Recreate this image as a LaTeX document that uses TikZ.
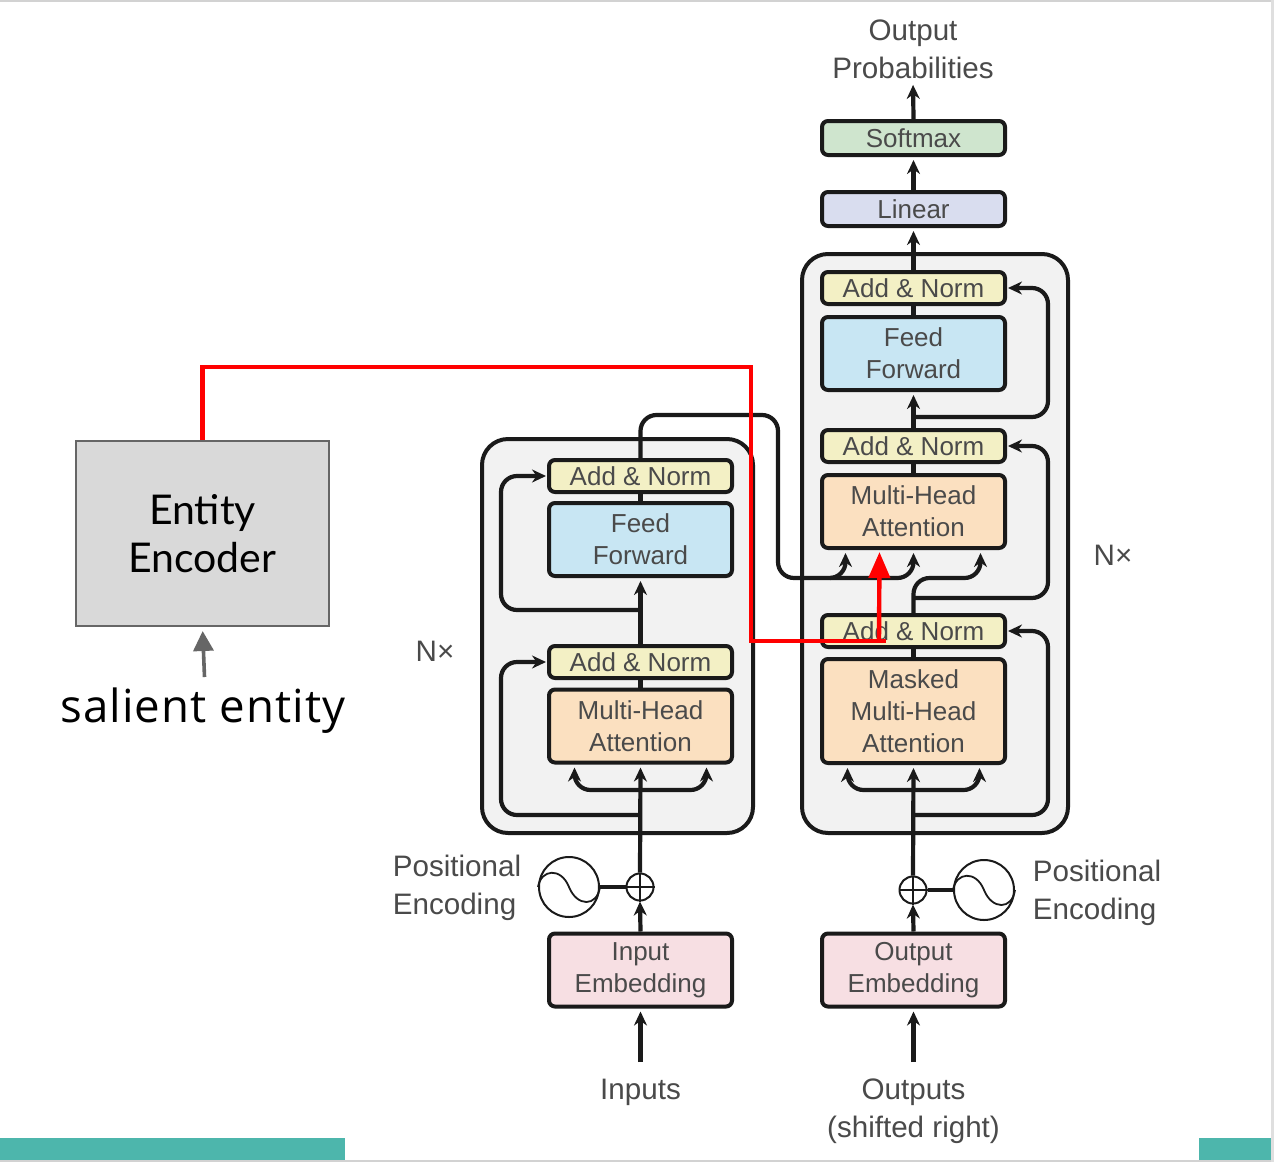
\documentclass[tikz,border=0pt]{standalone}
\usepackage{fontspec}
\setmainfont{Liberation Sans}
\newfontfamily\slidefont{Lato}
\newfontfamily\notefont[LetterSpace=2.5]{Open Sans}
\usetikzlibrary{arrows.meta,calc}
\definecolor{ink}{HTML}{1A1A1A}
\definecolor{label}{HTML}{4A4A4A}
\definecolor{groupfill}{HTML}{F2F2F2}
\definecolor{normfill}{HTML}{F3F0C5}
\definecolor{feedfill}{HTML}{C8E6F3}
\definecolor{attnfill}{HTML}{FBE0C0}
\definecolor{softfill}{HTML}{CFE5CE}
\definecolor{linfill}{HTML}{D9DDEF}
\definecolor{embfill}{HTML}{F7DFE3}
\definecolor{entfill}{HTML}{D9D9D9}
\definecolor{entline}{HTML}{666666}
\definecolor{teal}{HTML}{4DB6AC}
\definecolor{edge}{HTML}{D2D2D2}
\tikzset{
  group/.style  = {draw=ink, fill=groupfill, line width=2pt, rounded corners=13pt,
                   minimum width=#1, inner sep=0pt},
  blk/.style    = {draw=ink, line width=2pt, rounded corners=3pt, minimum width=91.5pt,
                   inner sep=0pt, text=label, align=center,
                   font=\fontsize{13}{16}\selectfont},
  short/.style  = {blk, minimum height=16pt},
  tall/.style   = {blk, minimum height=36.5pt},
  txt/.style    = {text=label, inner sep=0pt, font=\fontsize{14.8}{19}\selectfont},
  sum/.style    = {draw=ink, circle, fill=white, line width=1pt, minimum size=13.5pt, inner sep=0pt},
  osc/.style    = {draw=ink, circle, fill=white, line width=1pt, minimum size=30pt, inner sep=0pt},
  wire/.style   = {draw=ink, line width=2.1pt},
  flow/.style   = {wire, -{Stealth[length=7pt,width=6.5pt]}, shorten >=1.5pt, rounded corners=8pt},
  sideflow/.style = {flow, shorten >=0.5pt},
  redwire/.style = {draw=red, line width=2.2pt},
  redflow/.style = {redwire, -{Triangle[length=13pt,width=10.5pt]}, shorten >=1pt},
  grayflow/.style = {draw=entline, line width=1.8pt, -{Triangle[length=10pt,width=10pt]}, shorten >=2pt},
}
\newcommand{\drawwave}[1]{
  \draw[draw=ink,line width=.9pt] (#1.west) .. controls +(3,-18) and +(-8,-20) .. (#1.center)
    .. controls +(8,20) and +(-3,20) .. (#1.east);
}
\newcommand{\drawcross}[1]{
  \draw[draw=ink,line width=.6pt] (#1.north) -- (#1.south) (#1.west) -- (#1.east);
}
\begin{document}
\begin{tikzpicture}[x=0.5pt,y=-0.5pt]
  \useasboundingbox (0,0) rectangle (1274,1162);
  \fill[white] (0,0) rectangle (1274,1162);
  \fill[teal] (0,1138) rectangle (345,1160);
  \fill[teal] (1199,1138) rectangle (1271,1160);
  \fill[edge] (0,0) rectangle (1274,2);
  \fill[edge] (0,1160) rectangle (1274,1162);
  \fill[edge!70] (1271,0) rectangle (1274,1162);

  \node[group=135.5pt, minimum height=197pt] (encgroup) at (617.5,636) {};
  \node[group=133pt, minimum height=289.5pt] (decgroup) at (935,543.5) {};

  \node[tall, fill=embfill] (encemb) at (640.5,970) {Input\\Embedding};
  \node[sum] (encplus) at (640,887) {};
  \node[osc] (encosc) at (569,887) {};
  \node[tall, fill=attnfill] (encmha) at (640.5,726) {Multi-Head\\Attention};
  \node[short, fill=normfill] (encnormb) at (640.5,662) {Add \& Norm};
  \node[tall, fill=feedfill] (encfeed) at (640.5,539.5) {Feed\\Forward};
  \node[short, fill=normfill] (encnormt) at (640.5,476) {Add \& Norm};

  \node[tall, fill=embfill] (decemb) at (913.5,970) {Output\\Embedding};
  \node[sum] (decplus) at (913,890) {};
  \node[osc] (decosc) at (984,890) {};
  \node[blk, minimum height=52pt, fill=attnfill] (decmask) at (913.5,711) {Masked\\Multi-Head\\Attention};
  \node[short, fill=normfill] (decnormb) at (913.5,631) {Add \& Norm};
  \node[tall, fill=attnfill] (decmha) at (913.5,511.5) {Multi-Head\\Attention};
  \node[short, fill=normfill] (decnormm) at (913.5,446) {Add \& Norm};
  \node[tall, fill=feedfill] (decfeed) at (913.5,353.5) {Feed\\Forward};
  \node[short, fill=normfill] (decnormt) at (913.5,288) {Add \& Norm};
  \node[blk, minimum height=17pt, fill=linfill] (linear) at (913.5,209) {Linear};
  \node[blk, minimum height=17pt, fill=softfill] (softmax) at (913.5,138) {Softmax};

  \node[txt, align=center] (probs) at (913,49) {Output\\Probabilities};
  \node[txt] (inputs) at (640.5,1092) {Inputs};
  \node[txt, align=center] (outputs) at (913.5,1111) {Outputs\\(shifted right)};
  \node[txt, align=left] (encpos) at (457,888) {Positional\\Encoding};
  \node[txt, align=left] (decpos) at (1097,893) {Positional\\Encoding};
  \node[txt] (encnx) at (435,651) {N×};
  \node[txt] (decnx) at (1113,555) {N×};

  \node[draw=entline, fill=entfill, line width=1pt, minimum width=126.5pt, minimum height=92.5pt,
        inner sep=0pt, align=center, text=black, font=\slidefont\fontsize{20.5}{24}\selectfont]
        (entity) at (202.5,533.5) {Entity\\Encoder};
  \node[inner sep=0pt, text=black, font=\notefont\fontsize{22.8}{26}\selectfont] (salient) at (203,711) {salient entity};

  \coordinate (inputtail) at (640.5,1062);
  \coordinate (outputtail) at (913.5,1062);
  \coordinate (enctapa) at (640.5,815);
  \coordinate (enctapb) at (640.5,790);
  \coordinate (enctapc) at (640.5,610);
  \coordinate (enclanea) at (501,740);
  \coordinate (enclaneb) at (501,540);
  \coordinate (dectapa) at (913.5,815);
  \coordinate (dectapb) at (913.5,790);
  \coordinate (dectapc) at (913.5,598);
  \coordinate (dectapd) at (913.5,578);
  \coordinate (dectape) at (913.5,417);
  \coordinate (declanea) at (1048,720);
  \coordinate (declaneb) at (1048,520);
  \coordinate (declanec) at (1048,350);
  \coordinate (crossa) at (778,415);
  \coordinate (crossb) at (778,578);
  \coordinate (crossc) at (830,578);
  \coordinate (redtop) at (751,367);
  \coordinate (redlow) at (751,641);
  \coordinate (redend) at (886,641);
  \coordinate (redjoin) at (879,641);
  \coordinate (salienttail) at (204.5,677);

  \draw[flow] (inputtail) -- (encemb.south);
  \draw[flow, shorten >=0pt] (encemb.north) -- (encplus.south);
  \draw[flow] (encplus.north) -- (encmha.south);
  \draw[wire] (encosc.east) -- (encplus.west);
  \draw[flow] (enctapb) -| ([xshift=-33pt]encmha.south);
  \draw[flow] (enctapb) -| ([xshift=33pt]encmha.south);
  \draw[sideflow] (enctapa) -| (enclanea) |- (encnormb.west);
  \draw[wire] (encmha.north) -- (encnormb.south);
  \draw[flow] (encnormb.north) -- (encfeed.south);
  \draw[sideflow] (enctapc) -| (enclaneb) |- (encnormt.west);
  \draw[wire] (encfeed.north) -- (encnormt.south);

  \draw[flow] (outputtail) -- (decemb.south);
  \draw[flow, shorten >=0pt] (decemb.north) -- (decplus.south);
  \draw[flow] (decplus.north) -- (decmask.south);
  \draw[wire] (decosc.west) -- (decplus.east);
  \draw[flow] (dectapb) -| ([xshift=-33pt]decmask.south);
  \draw[flow] (dectapb) -| ([xshift=33pt]decmask.south);
  \draw[sideflow] (dectapa) -| (declanea) |- (decnormb.east);
  \draw[wire] (decmask.north) -- (decnormb.south);
  \draw[flow] (decnormb.north) -- (dectapd) -| ([xshift=33.5pt]decmha.south);
  \draw[sideflow] (dectapc) -| (declaneb) |- (decnormm.east);
  \draw[flow] (encnormt.north) |- (crossa) -- (crossb) -| ([xshift=-34pt]decmha.south);
  \draw[flow] (crossc) -| (decmha.south);
  \draw[wire] (decmha.north) -- (decnormm.south);
  \draw[flow] (decnormm.north) -- (decfeed.south);
  \draw[sideflow] (dectape) -| (declanec) |- (decnormt.east);
  \draw[wire] (decfeed.north) -- (decnormt.south);
  \draw[flow] (decnormt.north) -- (linear.south);
  \draw[flow] (linear.north) -- (softmax.south);
  \draw[flow, shorten >=3pt] (softmax.north) -- (probs.south);

  \drawcross{encplus}
  \drawcross{decplus}
  \drawwave{encosc}
  \drawwave{decosc}

  \draw[redwire] (entity.north) |- (redtop) -- (redlow) -- (redend);
  \draw[redflow] (redjoin) -- ([xshift=-17pt]decmha.south);
  \draw[grayflow] (salienttail) -- (entity.south);
\end{tikzpicture}
\end{document}
